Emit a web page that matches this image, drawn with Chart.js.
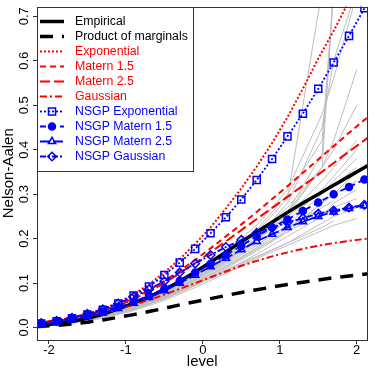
<!DOCTYPE html>
<html>
<head>
<meta charset="utf-8">
<script src="https://cdn.jsdelivr.net/npm/chart.js@4"></script>
<style>
    html, body { margin: 0; padding: 0; background: #fff; }
    canvas { display: block; }
</style>
</head>
<body>
<canvas id="GraficoNelsonAalen" width="374" height="374"></canvas>
<script>
/*Dados*/
var levelTicks = [-2, -1, 0, 1, 2];
var naTicks = [0.0, 0.1, 0.2, 0.3, 0.4, 0.5, 0.6, 0.7];

var levelsLinha = [-2.16, -2.1, -1.9, -1.7, -1.5, -1.3, -1.1, -0.9, -0.7, -0.5, -0.3, -0.1, 0.1, 0.3, 0.5, 0.7, 0.9, 1.1, 1.3, 1.5, 1.7, 1.9, 2.1, 2.16];
var levelsPontos = [-2.1, -1.9, -1.7, -1.5, -1.3, -1.1, -0.9, -0.7, -0.5, -0.3, -0.1, 0.1, 0.3, 0.5, 0.7, 0.9, 1.1, 1.3, 1.5, 1.7, 1.9, 2.1];
var levelsSim = [-2.1, -1.7, -1.3, -0.9, -0.5, -0.1, 0.3, 0.7, 1.1, 1.55, 1.7, 2.0];

var empirical = [0.004, 0.005, 0.009, 0.014, 0.021, 0.030, 0.042, 0.055, 0.069, 0.085, 0.104, 0.125, 0.147, 0.170, 0.193, 0.215, 0.237, 0.259, 0.280, 0.300, 0.320, 0.340, 0.360, 0.366];
var productMarginals = [0.002, 0.003, 0.005, 0.008, 0.012, 0.017, 0.023, 0.029, 0.036, 0.043, 0.051, 0.058, 0.065, 0.072, 0.079, 0.085, 0.091, 0.097, 0.102, 0.107, 0.112, 0.116, 0.120, 0.121];
var exponential = [0.008, 0.009, 0.014, 0.021, 0.030, 0.042, 0.056, 0.075, 0.097, 0.124, 0.154, 0.188, 0.225, 0.268, 0.313, 0.362, 0.415, 0.473, 0.537, 0.605, 0.667, 0.735, 0.805, 0.826];
var matern15 = [0.011, 0.012, 0.017, 0.023, 0.030, 0.039, 0.050, 0.066, 0.084, 0.105, 0.128, 0.152, 0.178, 0.205, 0.232, 0.260, 0.289, 0.318, 0.348, 0.378, 0.408, 0.438, 0.467, 0.475];
var matern25 = [0.010, 0.011, 0.016, 0.022, 0.029, 0.038, 0.049, 0.064, 0.081, 0.100, 0.122, 0.145, 0.169, 0.194, 0.219, 0.244, 0.269, 0.294, 0.319, 0.344, 0.370, 0.396, 0.421, 0.430];
var gaussian = [0.009, 0.010, 0.014, 0.019, 0.025, 0.032, 0.041, 0.051, 0.062, 0.074, 0.087, 0.100, 0.113, 0.126, 0.139, 0.150, 0.160, 0.169, 0.177, 0.184, 0.190, 0.195, 0.199, 0.200];

var nsgpExponential = [0.009, 0.014, 0.021, 0.029, 0.040, 0.054, 0.072, 0.092, 0.118, 0.146, 0.177, 0.212, 0.248, 0.288, 0.332, 0.379, 0.430, 0.481, 0.537, 0.596, 0.656, 0.718];
var nsgpMatern15 = [0.009, 0.014, 0.020, 0.027, 0.036, 0.046, 0.058, 0.072, 0.088, 0.105, 0.124, 0.143, 0.163, 0.184, 0.205, 0.225, 0.243, 0.262, 0.281, 0.300, 0.316, 0.333];
var nsgpMatern25 = [0.008, 0.012, 0.018, 0.025, 0.033, 0.043, 0.055, 0.068, 0.083, 0.100, 0.118, 0.137, 0.156, 0.175, 0.194, 0.210, 0.225, 0.238, 0.250, 0.260, 0.268, 0.274];
var nsgpGaussian = [0.010, 0.015, 0.022, 0.031, 0.041, 0.054, 0.069, 0.086, 0.104, 0.124, 0.144, 0.163, 0.181, 0.197, 0.213, 0.225, 0.236, 0.246, 0.256, 0.263, 0.270, 0.276];

/*Curvas simuladas (cinza)*/
var sim01 = [0.004, 0.010, 0.022, 0.040, 0.064, 0.094, 0.128, 0.165, 0.205, 0.250, 0.280, 0.310];
var sim02 = [0.005, 0.012, 0.025, 0.045, 0.072, 0.105, 0.142, 0.185, 0.230, 0.300, 0.330, 0.380];
var sim03 = [0.006, 0.014, 0.028, 0.050, 0.080, 0.115, 0.155, 0.200, 0.260, 0.360, 0.760, null];
var sim04 = [0.004, 0.011, 0.023, 0.042, 0.068, 0.098, 0.130, 0.160, 0.190, 0.225, 0.240, null];
var sim05 = [0.005, 0.013, 0.027, 0.048, 0.077, 0.110, 0.150, 0.200, 0.280, 0.450, 0.600, 0.760];
var sim06 = [0.006, 0.015, 0.030, 0.052, 0.083, 0.120, 0.165, 0.220, 0.300, 0.420, 0.760, null];
var sim07 = [0.004, 0.010, 0.021, 0.038, 0.061, 0.090, 0.122, 0.155, 0.185, 0.218, 0.230, 0.245];
var sim08 = [0.005, 0.012, 0.026, 0.046, 0.074, 0.108, 0.148, 0.195, 0.250, 0.330, 0.360, 0.420];
var sim09 = [0.005, 0.013, 0.027, 0.049, 0.079, 0.116, 0.160, 0.215, 0.290, 0.760, null, null];
var sim10 = [0.004, 0.011, 0.024, 0.043, 0.069, 0.100, 0.136, 0.175, 0.220, 0.280, 0.300, 0.330];
var sim11 = [0.006, 0.014, 0.029, 0.051, 0.081, 0.118, 0.160, 0.210, 0.270, 0.360, 0.400, 0.500];
var sim12 = [0.005, 0.012, 0.025, 0.044, 0.070, 0.102, 0.138, 0.178, 0.215, 0.258, 0.270, 0.290];
var sim13 = [0.004, 0.010, 0.022, 0.041, 0.066, 0.097, 0.133, 0.172, 0.215, 0.280, 0.300, 0.350];
var sim14 = [0.006, 0.015, 0.031, 0.054, 0.086, 0.125, 0.170, 0.230, 0.310, 0.480, 0.560, 0.750];
var sim15 = [0.005, 0.012, 0.024, 0.043, 0.069, 0.101, 0.138, 0.180, 0.225, 0.270, 0.285, null];
var sim16 = [0.005, 0.013, 0.027, 0.047, 0.075, 0.110, 0.150, 0.198, 0.255, 0.360, 0.420, 0.580];
var sim17 = [0.004, 0.011, 0.023, 0.041, 0.066, 0.095, 0.126, 0.158, 0.190, 0.235, 0.250, 0.270];
var sim18 = [0.006, 0.014, 0.029, 0.050, 0.080, 0.117, 0.158, 0.205, 0.260, 0.390, 0.760, null];
var sim19 = [0.005, 0.012, 0.026, 0.045, 0.073, 0.106, 0.145, 0.190, 0.240, 0.310, 0.340, 0.400];
var sim20 = [0.005, 0.013, 0.026, 0.047, 0.076, 0.112, 0.153, 0.200, 0.250, 0.305, 0.320, 0.360];
var simulacoes = [sim01, sim02, sim03, sim04, sim05, sim06, sim07, sim08, sim09, sim10,
                  sim11, sim12, sim13, sim14, sim15, sim16, sim17, sim18, sim19, sim20];

var fonte = '"Liberation Sans", Arial, Helvetica, sans-serif';
var VERMELHO = '#ff0000';
var AZUL = '#0000ff';
var VAZIO = 'rgba(0,0,0,0)';

function Pares(xs, ys) {
    return xs.map(function (x, i) { return { x: x, y: ys[i] }; });
}

function Serie(label, xs, ys, cor, largura, traco, ordem, marcador) {
    var ds = {
        label: label,
        data: Pares(xs, ys),
        borderColor: cor,
        borderWidth: largura,
        borderDash: traco,
        tension: 0,
        fill: false,
        order: ordem,
        pointRadius: 0,
        pointHoverRadius: 0
    };
    if (marcador) {
        ds.pointStyle = marcador.estilo;
        ds.pointRadius = marcador.raio;
        ds.pointBorderWidth = 1.5;
        ds.pointBorderColor = cor;
        ds.pointBackgroundColor = marcador.cheio ? cor : VAZIO;
    }
    return ds;
}

var datasets = [
    Serie('Empirical', levelsLinha, empirical, '#000000', 3.5, [], 9),
    Serie('Product of marginals', levelsLinha, productMarginals, '#000000', 3.5, [13, 9], 8),
    Serie('Exponential', levelsLinha, exponential, VERMELHO, 2, [2, 2], 7),
    Serie('Matern 1.5', levelsLinha, matern15, VERMELHO, 2, [6, 4], 6),
    Serie('Matern 2.5', levelsLinha, matern25, VERMELHO, 2, [10, 4], 5),
    Serie('Gaussian', levelsLinha, gaussian, VERMELHO, 2, [7, 3, 2, 3], 4),
    Serie('NSGP Exponential', levelsPontos, nsgpExponential, AZUL, 1.8, [2, 2], 3, { estilo: 'rect', raio: 5, cheio: false }),
    Serie('NSGP Matern 1.5', levelsPontos, nsgpMatern15, AZUL, 1.8, [6, 4], 2, { estilo: 'circle', raio: 3.5, cheio: true }),
    Serie('NSGP Matern 2.5', levelsPontos, nsgpMatern25, AZUL, 1.8, [10, 3], 1, { estilo: 'triangle', raio: 4.2, cheio: false }),
    Serie('NSGP Gaussian', levelsPontos, nsgpGaussian, AZUL, 1.8, [6, 2, 2, 2], 0, { estilo: 'rectRot', raio: 4.3, cheio: false })
];

simulacoes.forEach(function (s) {
    datasets.push(Serie('', levelsSim, s, '#bebebe', 1, [], 20));
});

/*Moldura, rótulos dos eixos e legenda no estilo do R*/
var caixaPlugin = {
    id: 'caixa',
    afterDraw: function (chart) {
        var ctx = chart.ctx;
        var a = chart.chartArea;
        var sx = chart.scales.x;
        var sy = chart.scales.y;
        ctx.save();

        ctx.setLineDash([]);
        ctx.strokeStyle = '#333';
        ctx.lineWidth = 1;
        ctx.strokeRect(Math.round(a.left) + 0.5, Math.round(a.top) + 0.5,
            Math.round(a.right - a.left) - 1, Math.round(a.bottom - a.top) - 1);

        ctx.fillStyle = '#000';
        ctx.font = '13px ' + fonte;
        ctx.textAlign = 'center';
        ctx.textBaseline = 'alphabetic';
        levelTicks.forEach(function (v) {
            ctx.fillText(String(v), sx.getPixelForValue(v), 354);
        });
        naTicks.forEach(function (v) {
            ctx.save();
            ctx.translate(28, sy.getPixelForValue(v));
            ctx.rotate(-Math.PI / 2);
            ctx.fillText(v.toFixed(1), 0, 0);
            ctx.restore();
        });

        // legenda
        var lx = Math.round(a.left) + 0.5, ly = Math.round(a.top) + 0.5;
        ctx.fillStyle = '#fff';
        ctx.fillRect(lx, ly, 156, 164);
        ctx.strokeStyle = '#333';
        ctx.strokeRect(lx, ly, 156, 164);

        var y = a.top + 15;
        ctx.font = '12.3px ' + fonte;
        ctx.textAlign = 'left';
        ctx.textBaseline = 'middle';
        chart.data.datasets.forEach(function (ds) {
            if (!ds.label) return;
            ctx.setLineDash(ds.borderDash);
            ctx.lineWidth = ds.borderWidth;
            ctx.strokeStyle = ds.borderColor;
            ctx.beginPath();
            ctx.moveTo(a.left + 3, y);
            ctx.lineTo(a.left + 27, y);
            ctx.stroke();
            if (ds.pointRadius > 0 && Chart.helpers && Chart.helpers.drawPoint) {
                ctx.setLineDash([]);
                ctx.lineWidth = ds.pointBorderWidth;
                ctx.fillStyle = ds.pointBackgroundColor;
                Chart.helpers.drawPoint(ctx, {
                    pointStyle: ds.pointStyle, radius: ds.pointRadius,
                    borderWidth: ds.pointBorderWidth, rotation: 0
                }, a.left + 15, y);
            }
            ctx.fillStyle = ds.borderColor;
            ctx.fillText(ds.label, a.left + 38, y);
            y += 15;
        });
        ctx.restore();
    }
};

var ctx = document.getElementById('GraficoNelsonAalen').getContext('2d');

var grafico = new Chart(ctx, {
    type: 'line',
    data: { datasets: datasets },
    options: {
        responsive: false,
        animation: false,
        devicePixelRatio: 1,
        spanGaps: false,
        layout: { padding: { left: 0, right: 4, top: 2, bottom: 0 } },
        plugins: {
            legend: { display: false },
            tooltip: { enabled: false }
        },
        scales: {
            x: {
                type: 'linear',
                min: -2.155,
                max: 2.14,
                afterBuildTicks: function (s) { s.ticks = levelTicks.map(function (v) { return { value: v }; }); },
                afterFit: function (s) { s.height = 34; },
                ticks: { display: false },
                grid: { drawOnChartArea: false, drawTicks: true, tickLength: 4, color: '#333' },
                border: { display: false },
                title: { display: true, text: 'level', color: '#000', font: { size: 15, family: fonte }, padding: { top: 0, bottom: 3 } }
            },
            y: {
                type: 'linear',
                min: -0.028,
                max: 0.722,
                afterBuildTicks: function (s) { s.ticks = naTicks.map(function (v) { return { value: v }; }); },
                afterFit: function (s) { s.width = 37; },
                ticks: { display: false },
                grid: { drawOnChartArea: false, drawTicks: true, tickLength: 4, color: '#333' },
                border: { display: false },
                title: { display: true, text: 'Nelson-Aalen', color: '#000', font: { size: 15, family: fonte }, padding: { top: 0, bottom: 0 } }
            }
        }
    },
    plugins: [caixaPlugin]
});
</script>
</body>
</html>
